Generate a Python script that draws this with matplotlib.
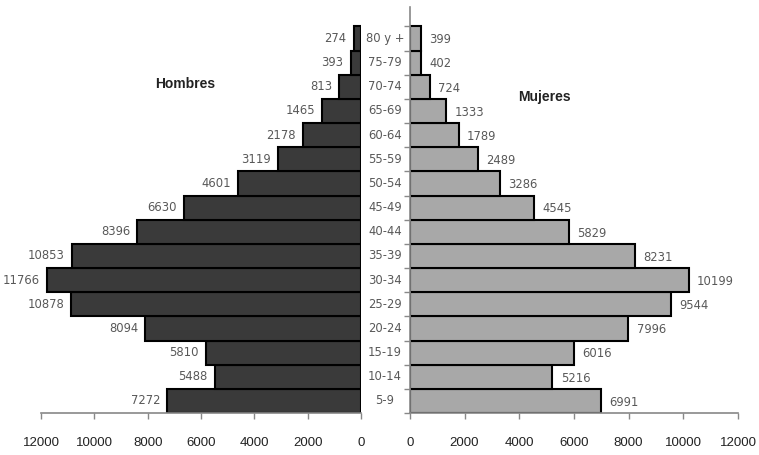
import numpy as np
import matplotlib.pyplot as plt
from matplotlib import transforms

# Population by age group (bottom to top)
grupos = ['5-9', '10-14', '15-19', '20-24', '25-29', '30-34', '35-39', '40-44',
          '45-49', '50-54', '55-59', '60-64', '65-69', '70-74', '75-79', '80 y +']
hombres = [7272, 5488, 5810, 8094, 10878, 11766, 10853, 8396,
           6630, 4601, 3119, 2178, 1465, 813, 393, 274]
mujeres = [6991, 5216, 6016, 7996, 9544, 10199, 8231, 5829,
           4545, 3286, 2489, 1789, 1333, 724, 402, 399]
xticks = [0, 2000, 4000, 6000, 8000, 10000, 12000]

plt.rcParams['font.family'] = ['Liberation Sans', 'DejaVu Sans']
small = dict(fontsize=9.3, color='#585858', family='DejaVu Sans', fontstretch='condensed')

fig = plt.figure(figsize=(7.59, 4.55), dpi=100)
ax_l = fig.add_axes([0.054, 0.0923, 0.4216, 0.8923])
ax_r = fig.add_axes([0.540, 0.0923, 0.4323, 0.8923])

y = np.arange(len(grupos))

ax_l.barh(y, hombres, height=1.0, color='#3a3a3a', edgecolor='black', linewidth=1.5)
ax_r.barh(y, mujeres, height=1.0, color='#a8a8a8', edgecolor='black', linewidth=1.5)

for yi, v in zip(y, hombres):
    ax_l.annotate(str(v), (v, yi), xytext=(-5, 0), textcoords='offset points',
                  ha='right', va='center', **small)
for yi, v in zip(y, mujeres):
    ax_r.annotate(str(v), (v, yi), xytext=(6, -1), textcoords='offset points',
                  ha='left', va='center', **small)

# age group labels in the gap between the two halves
trans = transforms.blended_transform_factory(fig.transFigure, ax_r.transData)
for yi, g in zip(y, grupos):
    fig.text(0.507, yi, g, transform=trans, ha='center', va='center', **small)

ylim = (-0.5, 16.3)
ax_l.set_xlim(12000, 0)
ax_r.set_xlim(0, 12000)
for ax in (ax_l, ax_r):
    ax.set_ylim(*ylim)
    ax.set_xticks(xticks)
    ax.set_xticklabels([str(t) for t in xticks])
    ax.tick_params(axis='x', direction='out', length=4, width=1, color='#888888',
                   pad=13, labelsize=9.5, labelcolor='#222222')
    ax.spines['top'].set_visible(False)
    ax.spines['right'].set_visible(False)
    ax.spines['bottom'].set_color('#888888')
    ax.spines['bottom'].set_linewidth(1.2)

ax_l.spines['left'].set_visible(False)
ax_l.set_yticks([])

ax_r.spines['left'].set_color('#888888')
ax_r.spines['left'].set_linewidth(1.2)
ax_r.set_yticks(np.arange(-0.5, 16, 1.0))
ax_r.set_yticklabels([])
ax_r.tick_params(axis='y', direction='out', length=4, width=1, color='#888888')

fig.text(185 / 759, 1 - 84 / 455, 'Hombres', ha='center', va='center',
         fontsize=10, fontweight='bold', color='#222222')
fig.text(544 / 759, 1 - 97 / 455, 'Mujeres', ha='center', va='center',
         fontsize=10, fontweight='bold', color='#222222')

fig.savefig('out.png', dpi=100)
